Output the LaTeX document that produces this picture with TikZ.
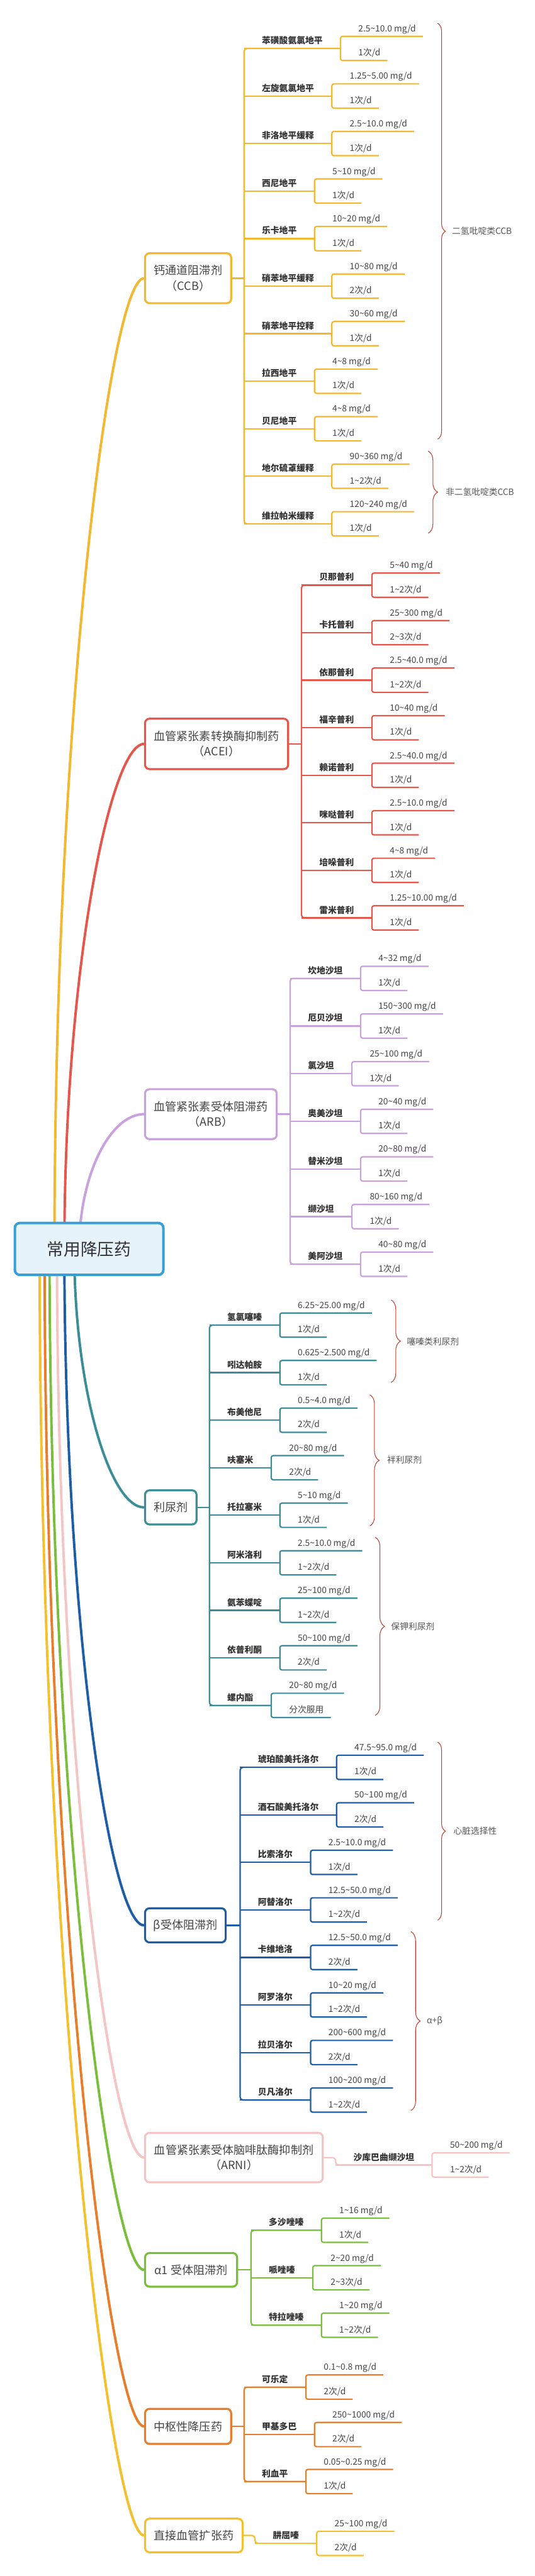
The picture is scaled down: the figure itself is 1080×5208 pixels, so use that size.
\documentclass[tikz,border=0pt]{standalone}
\usepackage{fontspec}
\setmainfont{Noto Sans CJK SC}
\usetikzlibrary{calc,decorations.pathreplacing}
\pgfdeclarelayer{bg}
\pgfsetlayers{bg,main}
\newcommand\tld{\char"7E\relax}
\definecolor{ccbc}{HTML}{F4B830}
\definecolor{acec}{HTML}{E4574C}
\definecolor{arbc}{HTML}{C9A1DD}
\definecolor{diuc}{HTML}{3B8E97}
\definecolor{betc}{HTML}{1E5EA6}
\definecolor{arnc}{HTML}{F5C5C5}
\definecolor{alpc}{HTML}{7BBE3E}
\definecolor{cenc}{HTML}{E67E2E}
\definecolor{dirc}{HTML}{F5C02E}
\definecolor{bracec}{HTML}{C0392B}
\definecolor{rootc}{HTML}{3A9FD6}
\definecolor{rootf}{HTML}{E6F3FB}
\definecolor{txtd}{HTML}{333333}
\definecolor{txtv}{HTML}{444444}
\definecolor{txtc}{HTML}{444444}
\definecolor{txtb}{HTML}{555555}
\tikzset{
 dname/.style={anchor=base west, inner sep=0pt, font=\bfseries\fontsize{17.5}{20}\selectfont, text=txtd},
 dval/.style={anchor=base west, inner sep=0pt, font=\fontsize{17.5}{20}\selectfont, text=txtv},
 br/.style={line width=2.8pt},
 cat/.style={draw=#1, line width=4pt, rounded corners=9pt, fill=white, align=center, font=\fontsize{23}{31}\selectfont, text=txtc, inner sep=0pt},
 curve/.style={draw=#1, line width=5pt},
 brc/.style={draw=bracec, line width=1.3pt, decorate, decoration={brace, amplitude=#1}},
 blab/.style={anchor=west, inner sep=0pt, font=\fontsize{17.5}{20}\selectfont, text=txtb},
}
% #1 id, #2 trunk x, #3 line y, #4 name, #5 dose, #6 frequency
\newcommand\drug[6]{%
 \coordinate (#1l) at (#2,#3);
 \node[dname] (#1) at (#2+36,#3-9.5) {#4};
 \coordinate (#1f) at ($(#1.east |- #1l)+(36,0)$);
 \coordinate (#1t) at ($(#1f)+(0,-24.5)$);
 \coordinate (#1u) at ($(#1f)+(0,24.5)$);
 \node[dval] (#1a) at ($(#1t)+(36,-9.5)$) {#5};
 \node[dval] (#1b) at ($(#1u)+(36,-9.5)$) {#6};
 \draw[br] (#1l) -- (#1f);
 \draw[br,rounded corners=4pt] ($(#1a.east |- #1t)+(14,0)$) -- (#1t) -- (#1u) -- ($(#1b.east |- #1u)+(14,0)$);
}
\begin{document}
\begin{tikzpicture}[x=1pt,y=-1pt]
\useasboundingbox (0,0) rectangle (1080,5208);

% root and category boxes
\node[draw=rootc, line width=5pt, fill=rootf, rounded corners=10pt, minimum width=300, minimum height=105, font=\fontsize{34}{34}\selectfont, text=txtd] (root) at (180,2525) {常用降压药};
\node[cat=ccbc, minimum width=174, minimum height=101] (ccb) at (380,562.5) {钙通道阻滞剂\\（CCB）};
\node[cat=acec, minimum width=289, minimum height=102] (acei) at (437.5,1504) {血管紧张素转换酶抑制药\\（ACEI）};
\node[cat=arbc, minimum width=266, minimum height=101] (arb) at (426,2252.5) {血管紧张素受体阻滞药\\（ARB）};
\node[cat=diuc, minimum width=104, minimum height=69] (diu) at (345,3047.5) {利尿剂};
\node[cat=betc, minimum width=163, minimum height=69] (bet) at (374.5,3892.5) {β受体阻滞剂};
\node[cat=arnc, minimum width=359, minimum height=100] (arni) at (472.5,4362) {血管紧张素受体脑啡肽酶抑制剂\\（ARNI）};
\node[cat=alpc, minimum width=186, minimum height=68] (alp) at (386,4589) {α1 受体阻滞剂};
\node[cat=cenc, minimum width=174, minimum height=71] (cen) at (380,4905.5) {中枢性降压药};
\node[cat=dirc, minimum width=197, minimum height=68] (dir) at (391.5,5126) {直接血管扩张药};

\begin{pgfonlayer}{bg}
\fill[white] (0,0) rectangle (1080,5208);
\draw[curve=ccbc] (110,2525) .. controls (110,1446) and (223,562.5) .. (ccb.west);
\draw[curve=acec] (130,2525) .. controls (130,1963) and (223,1504) .. (acei.west);
\draw[curve=arbc] (160,2525) .. controls (160,2375) and (223,2252.5) .. (arb.west);
\draw[curve=diuc] (150,2525) .. controls (150,2812) and (223,3047.5) .. (diu.west);
\draw[curve=betc] (130,2525) .. controls (130,3277) and (223,3892.5) .. (bet.west);
\draw[curve=arnc] (115,2525) .. controls (115,3535) and (223,4362) .. (arni.west);
\draw[curve=alpc] (100,2525) .. controls (100,3660) and (223,4589) .. (alp.west);
\draw[curve=cenc] (90,2525) .. controls (90,3834) and (223,4905.5) .. (cen.west);
\draw[curve=dirc] (80,2525) .. controls (80,3956) and (223,5126) .. (dir.west);
\end{pgfonlayer}

% CCB
\begin{scope}[br/.append style={draw=ccbc}]
\drug{c1}{493}{98}{苯磺酸氨氯地平}{2.5\tld10.0 mg/d}{1次/d}
\drug{c2}{493}{194.1}{左旋氨氯地平}{1.25\tld5.00 mg/d}{1次/d}
\drug{c3}{493}{290.2}{非洛地平缓释}{2.5\tld10.0 mg/d}{1次/d}
\drug{c4}{493}{386.3}{西尼地平}{5\tld10 mg/d}{1次/d}
\drug{c5}{493}{482.4}{乐卡地平}{10\tld20 mg/d}{1次/d}
\drug{c6}{493}{578.5}{硝苯地平缓释}{10\tld80 mg/d}{2次/d}
\drug{c7}{493}{674.6}{硝苯地平控释}{30\tld60 mg/d}{1次/d}
\drug{c8}{493}{770.7}{拉西地平}{4\tld8 mg/d}{1次/d}
\drug{c9}{493}{866.8}{贝尼地平}{4\tld8 mg/d}{1次/d}
\drug{c10}{493}{962.9}{地尔硫䓬缓释}{90\tld360 mg/d}{1\tld2次/d}
\drug{c11}{493}{1059}{维拉帕米缓释}{120\tld240 mg/d}{1次/d}
\draw[br,rounded corners=6pt] (c1f) -- (c1l) -- (c11l) -- (c11f);
\draw[br] (ccb.east) -- (ccb.east -| c1l);
\end{scope}

% ACEI
\begin{scope}[br/.append style={draw=acec}]
\drug{e1}{609}{1183}{贝那普利}{5\tld40 mg/d}{1\tld2次/d}
\drug{e2}{609}{1279.1}{卡托普利}{25\tld300 mg/d}{2\tld3次/d}
\drug{e3}{609}{1375.2}{依那普利}{2.5\tld40.0 mg/d}{1\tld2次/d}
\drug{e4}{609}{1471.3}{福辛普利}{10\tld40 mg/d}{1次/d}
\drug{e5}{609}{1567.4}{赖诺普利}{2.5\tld40.0 mg/d}{1次/d}
\drug{e6}{609}{1663.5}{咪哒普利}{2.5\tld10.0 mg/d}{1次/d}
\drug{e7}{609}{1759.6}{培哚普利}{4\tld8 mg/d}{1次/d}
\drug{e8}{609}{1855.7}{雷米普利}{1.25\tld10.00 mg/d}{1次/d}
\draw[br,rounded corners=6pt] (e1f) -- (e1l) -- (e8l) -- (e8f);
\draw[br] (acei.east) -- (acei.east -| e1l);
\end{scope}

% ARB
\begin{scope}[br/.append style={draw=arbc}]
\drug{r1}{586}{1978}{坎地沙坦}{4\tld32 mg/d}{1次/d}
\drug{r2}{586}{2074.3}{厄贝沙坦}{150\tld300 mg/d}{1次/d}
\drug{r3}{586}{2170.7}{氯沙坦}{25\tld100 mg/d}{1次/d}
\drug{r4}{586}{2267}{奥美沙坦}{20\tld40 mg/d}{1次/d}
\drug{r5}{586}{2363.3}{替米沙坦}{20\tld80 mg/d}{1次/d}
\drug{r6}{586}{2459.7}{缬沙坦}{80\tld160 mg/d}{1次/d}
\drug{r7}{586}{2556}{美阿沙坦}{40\tld80 mg/d}{1次/d}
\draw[br,rounded corners=6pt] (r1f) -- (r1l) -- (r7l) -- (r7f);
\draw[br] (arb.east) -- (arb.east -| r1l);
\end{scope}

% diuretics
\begin{scope}[br/.append style={draw=diuc}]
\drug{d1}{423}{2679}{氢氯噻嗪}{6.25\tld25.00 mg/d}{1次/d}
\drug{d2}{423}{2775.1}{吲达帕胺}{0.625\tld2.500 mg/d}{1次/d}
\drug{d3}{423}{2871.2}{布美他尼}{0.5\tld4.0 mg/d}{2次/d}
\drug{d4}{423}{2967.3}{呋塞米}{20\tld80 mg/d}{2次/d}
\drug{d5}{423}{3063.4}{托拉塞米}{5\tld10 mg/d}{1次/d}
\drug{d6}{423}{3159.5}{阿米洛利}{2.5\tld10.0 mg/d}{1\tld2次/d}
\drug{d7}{423}{3255.6}{氨苯蝶啶}{25\tld100 mg/d}{1\tld2次/d}
\drug{d8}{423}{3351.7}{依普利酮}{50\tld100 mg/d}{2次/d}
\drug{d9}{423}{3447.8}{螺内酯}{20\tld80 mg/d}{分次服用}
\draw[br,rounded corners=6pt] (d1f) -- (d1l) -- (d9l) -- (d9f);
\draw[br] (diu.east) -- (diu.east -| d1l);
\end{scope}

% beta blockers
\begin{scope}[br/.append style={draw=betc}]
\drug{b1}{485}{3573}{琥珀酸美托洛尔}{47.5\tld95.0 mg/d}{1次/d}
\drug{b2}{485}{3669.1}{酒石酸美托洛尔}{50\tld100 mg/d}{2次/d}
\drug{b3}{485}{3765.2}{比索洛尔}{2.5\tld10.0 mg/d}{1次/d}
\drug{b4}{485}{3861.3}{阿替洛尔}{12.5\tld50.0 mg/d}{1\tld2次/d}
\drug{b5}{485}{3957.4}{卡维地洛}{12.5\tld50.0 mg/d}{2次/d}
\drug{b6}{485}{4053.5}{阿罗洛尔}{10\tld20 mg/d}{1\tld2次/d}
\drug{b7}{485}{4149.6}{拉贝洛尔}{200\tld600 mg/d}{2次/d}
\drug{b8}{485}{4245.7}{贝凡洛尔}{100\tld200 mg/d}{1\tld2次/d}
\draw[br,rounded corners=6pt] (b1f) -- (b1l) -- (b8l) -- (b8f);
\draw[br] (bet.east) -- (bet.east -| b1l);
\end{scope}

% ARNI
\begin{scope}[br/.append style={draw=arnc}]
\drug{n1}{678}{4377}{沙库巴曲缬沙坦}{50\tld200 mg/d}{1\tld2次/d}
\draw[br,rounded corners=6pt] (arni.east) -- (arni.east -| n1l) -- (n1l) -- (n1f);
\end{scope}

% alpha1
\begin{scope}[br/.append style={draw=alpc}]
\drug{p1}{507}{4509}{多沙唑嗪}{1\tld16 mg/d}{1次/d}
\drug{p2}{507}{4605}{哌唑嗪}{2\tld20 mg/d}{2\tld3次/d}
\drug{p3}{507}{4701}{特拉唑嗪}{1\tld20 mg/d}{1\tld2次/d}
\draw[br,rounded corners=6pt] (p1f) -- (p1l) -- (p3l) -- (p3f);
\draw[br] (alp.east) -- (alp.east -| p1l);
\end{scope}

% central
\begin{scope}[br/.append style={draw=cenc}]
\drug{z1}{493}{4826}{可乐定}{0.1\tld0.8 mg/d}{2次/d}
\drug{z2}{493}{4922}{甲基多巴}{250\tld1000 mg/d}{2次/d}
\drug{z3}{493}{5017}{利血平}{0.05\tld0.25 mg/d}{1次/d}
\draw[br,rounded corners=6pt] (z1f) -- (z1l) -- (z3l) -- (z3f);
\draw[br] (cen.east) -- (cen.east -| z1l);
\end{scope}

% direct vasodilator
\begin{scope}[br/.append style={draw=dirc}]
\drug{v1}{515}{5142}{肼屈嗪}{25\tld100 mg/d}{2次/d}
\draw[br,rounded corners=6pt] (dir.east) -- (dir.east -| v1l) -- (v1l) -- (v1f);
\end{scope}

% braces
\draw[brc=16pt] (884,47) -- (884,888);
\node[blab] (g1) at (913,467.5) {二氢吡啶类CCB};
\draw[brc=19pt] (865,912) -- (865,1078);
\node[blab] (g2) at (900,995) {非二氢吡啶类CCB};
\draw[brc=19pt] (790,2628) -- (790,2795);
\node[blab] (g3) at (822,2712) {噻嗪类利尿剂};
\draw[brc=19pt] (747,2820) -- (747,3085);
\node[blab] (g4) at (782,2952) {袢利尿剂};
\draw[brc=19pt] (758,3108) -- (758,3468);
\node[blab] (g5) at (790,3288) {保钾利尿剂};
\draw[brc=16pt] (884,3522) -- (884,3882);
\node[blab] (g6) at (916,3702) {心脏选择性};
\draw[brc=19pt] (830,3905) -- (830,4267);
\node[blab] (g7) at (862,4086) {α+β};
\end{tikzpicture}
\end{document}
